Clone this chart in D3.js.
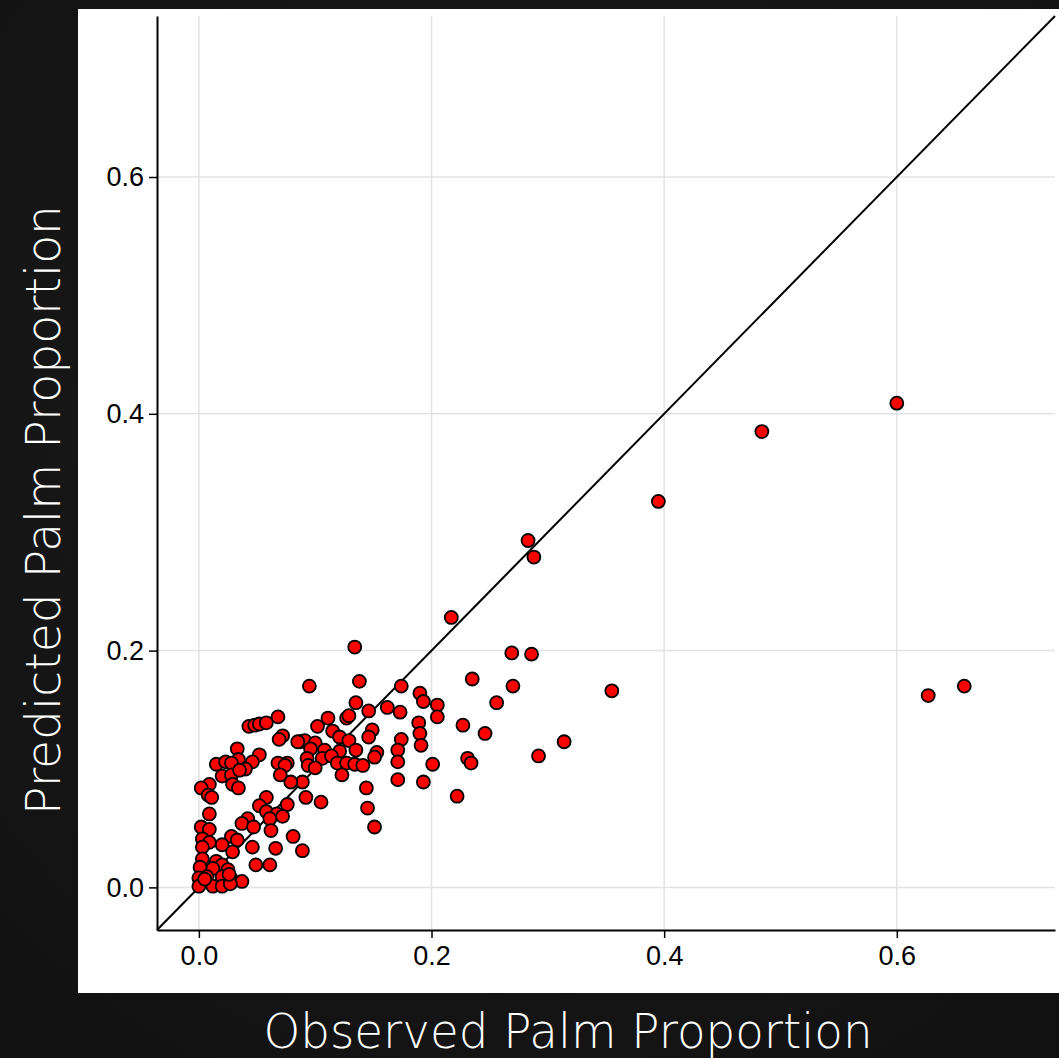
<!DOCTYPE html>
<html>
<head>
<meta charset="utf-8">
<script src="https://cdn.jsdelivr.net/npm/d3@7"></script>
<style>
  html, body { margin: 0; padding: 0; background: #151515; }
  svg { display: block; }
</style>
</head>
<body>
<script>
// observed vs predicted palm proportion
var observed = [
  0.600, 0.484, 0.395, 0.283, 0.288, 0.217, 0.134, 0.355, 0.627, 0.658,
  0.269, 0.286, 0.235, 0.270, 0.256, 0.246, 0.227, 0.292, 0.314, 0.231,
  0.234, 0.222, 0.201, 0.174, 0.190, 0.193, 0.205, 0.205, 0.173, 0.189,
  0.190, 0.191, 0.174, 0.171, 0.171, 0.171, 0.193, 0.095, 0.138, 0.135,
  0.146, 0.162, 0.111, 0.127, 0.129, 0.102, 0.115, 0.121, 0.129, 0.149,
  0.146, 0.087, 0.091, 0.100, 0.096, 0.108, 0.121, 0.135, 0.153, 0.151,
  0.106, 0.114, 0.093, 0.094, 0.100, 0.119, 0.127, 0.134, 0.141, 0.123,
  0.089, 0.144, 0.092, 0.105, 0.145, 0.151, 0.076, 0.079, 0.068, 0.043,
  0.048, 0.052, 0.058, 0.072, 0.069, 0.085, 0.033, 0.052, 0.046, 0.034,
  0.040, 0.015, 0.023, 0.028, 0.020, 0.028, 0.035, 0.068, 0.074, 0.070,
  0.029, 0.034, 0.009, 0.002, 0.008, 0.011, 0.009, 0.058, 0.052, 0.058,
  0.076, 0.067, 0.072, 0.061, 0.042, 0.037, 0.047, 0.062, 0.002, 0.009,
  0.028, 0.033, 0.020, 0.081, 0.003, 0.009, 0.003, 0.029, 0.046, 0.066,
  0.089, 0.049, 0.061, 0.003, 0.015, 0.020, 0.012, 0.025, 0.001, 0.000,
  0.007, 0.020, 0.028, 0.037, 0.000, 0.012, 0.020, 0.005, 0.027, 0.026
];
var predicted = [
  0.409, 0.385, 0.326, 0.293, 0.279, 0.228, 0.203, 0.166, 0.162, 0.170,
  0.198, 0.197, 0.176, 0.170, 0.156, 0.130, 0.137, 0.111, 0.123, 0.109,
  0.105, 0.077, 0.104, 0.170, 0.164, 0.157, 0.154, 0.144, 0.148, 0.139,
  0.130, 0.120, 0.125, 0.116, 0.106, 0.091, 0.089, 0.170, 0.174, 0.156,
  0.149, 0.152, 0.143, 0.143, 0.145, 0.136, 0.132, 0.127, 0.124, 0.133,
  0.127, 0.123, 0.124, 0.122, 0.117, 0.116, 0.115, 0.116, 0.114, 0.110,
  0.109, 0.111, 0.109, 0.103, 0.101, 0.105, 0.105, 0.104, 0.103, 0.095,
  0.089, 0.084, 0.076, 0.072, 0.067, 0.051, 0.105, 0.089, 0.144, 0.136,
  0.137, 0.138, 0.139, 0.128, 0.125, 0.123, 0.117, 0.112, 0.106, 0.108,
  0.100, 0.104, 0.106, 0.105, 0.094, 0.095, 0.099, 0.105, 0.103, 0.095,
  0.087, 0.084, 0.087, 0.084, 0.078, 0.076, 0.062, 0.076, 0.069, 0.064,
  0.070, 0.062, 0.060, 0.058, 0.058, 0.054, 0.051, 0.048, 0.051, 0.049,
  0.043, 0.040, 0.036, 0.043, 0.041, 0.038, 0.034, 0.030, 0.034, 0.033,
  0.031, 0.019, 0.019, 0.024, 0.022, 0.019, 0.016, 0.015, 0.017, 0.008,
  0.009, 0.009, 0.007, 0.005, 0.001, 0.001, 0.001, 0.007, 0.003, 0.011
];
var tickValues = [0, 0.2, 0.4, 0.6];
var tickLabels = ['0.0', '0.2', '0.4', '0.6'];
var xTitle = 'Observed Palm Proportion';
var yTitle = 'Predicted Palm Proportion';

var width = 1059, height = 1058;

var svg = d3.select('body').append('svg')
  .attr('width', width)
  .attr('height', height);

// dark backdrop
var grad = svg.append('defs').append('radialGradient')
  .attr('id', 'bg')
  .attr('cx', '50%').attr('cy', '40%').attr('r', '75%');
grad.append('stop').attr('offset', '0%').attr('stop-color', '#1d1d1d');
grad.append('stop').attr('offset', '100%').attr('stop-color', '#111');

svg.append('rect')
  .attr('width', width)
  .attr('height', height)
  .attr('fill', 'url(#bg)');

// white plot panel
svg.append('rect')
  .attr('x', 78)
  .attr('y', 9)
  .attr('width', width - 78)
  .attr('height', 984)
  .attr('fill', '#fff');

var lo = -0.036, hi = 0.736;
var x = d3.scaleLinear().domain([lo, hi]).range([157, 1055]);
var y = d3.scaleLinear().domain([lo, hi]).range([930, 16]);

// grid
var grid = svg.append('g').attr('class', 'grid');
grid.selectAll('line.v')
  .data(tickValues)
  .enter().append('line')
  .attr('class', 'v')
  .attr('x1', function(d) { return x(d); })
  .attr('x2', function(d) { return x(d); })
  .attr('y1', y(hi))
  .attr('y2', y(lo))
  .attr('stroke', '#e3e3e3')
  .attr('stroke-width', 1.5);
grid.selectAll('line.h')
  .data(tickValues)
  .enter().append('line')
  .attr('class', 'h')
  .attr('y1', function(d) { return y(d); })
  .attr('y2', function(d) { return y(d); })
  .attr('x1', x(lo))
  .attr('x2', x(hi))
  .attr('stroke', '#e3e3e3')
  .attr('stroke-width', 1.5);

// 1:1 line
svg.append('line')
  .attr('x1', x(lo)).attr('y1', y(lo))
  .attr('x2', x(hi)).attr('y2', y(hi))
  .attr('stroke', '#000')
  .attr('stroke-width', 2);

// axes
var fmt = function(d) { return tickLabels[tickValues.indexOf(d)]; };

var xAxis = svg.append('g')
  .attr('transform', 'translate(0,' + y(lo) + ')')
  .call(d3.axisBottom(x).tickValues(tickValues).tickFormat(fmt).tickSize(8).tickPadding(8).tickSizeOuter(0));

var yAxis = svg.append('g')
  .attr('transform', 'translate(' + x(lo) + ',0)')
  .call(d3.axisLeft(y).tickValues(tickValues).tickFormat(fmt).tickSize(8).tickPadding(5).tickSizeOuter(0));

[xAxis, yAxis].forEach(function(a) {
  a.select('.domain').attr('stroke', '#000').attr('stroke-width', 2);
  a.selectAll('.tick line').attr('stroke', '#000').attr('stroke-width', 1.5);
  a.selectAll('.tick text')
    .attr('fill', '#000')
    .style('font-family', 'Liberation Sans, Arial, sans-serif')
    .style('font-size', '27px');
});

// points
var pts = observed.map(function(d, i) { return {obs: d, pred: predicted[i]}; });

svg.append('g').selectAll('circle')
  .data(pts)
  .enter().append('circle')
  .attr('cx', function(d) { return x(d.obs); })
  .attr('cy', function(d) { return y(d.pred); })
  .attr('r', 6.5)
  .attr('fill', '#ff0000')
  .attr('stroke', '#000')
  .attr('stroke-width', 1.8);

// titles
svg.append('text')
  .attr('x', 568)
  .attr('y', 1048)
  .attr('text-anchor', 'middle')
  .attr('textLength', 609)
  .attr('lengthAdjust', 'spacingAndGlyphs')
  .attr('fill', '#fff')
  .style('font-family', 'DejaVu Sans, sans-serif')
  .style('font-weight', 200)
  .style('font-size', '48px')
  .text(xTitle);

svg.append('text')
  .attr('transform', 'translate(60,510) rotate(-90)')
  .attr('text-anchor', 'middle')
  .attr('textLength', 610)
  .attr('lengthAdjust', 'spacingAndGlyphs')
  .attr('fill', '#fff')
  .style('font-family', 'DejaVu Sans, sans-serif')
  .style('font-weight', 200)
  .style('font-size', '48px')
  .text(yTitle);
</script>
</body>
</html>
